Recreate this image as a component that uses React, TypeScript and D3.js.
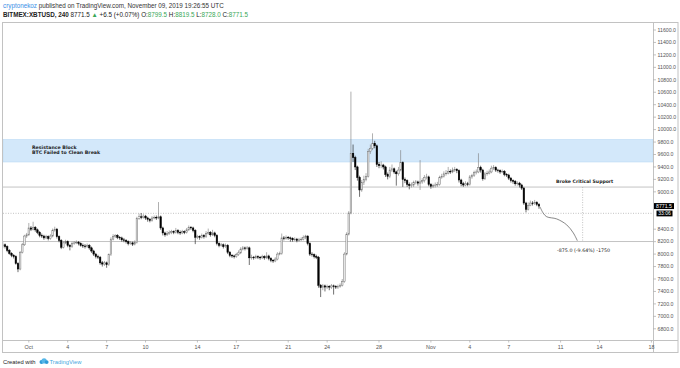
import React, { useEffect, useRef } from 'react';
import * as d3 from 'd3';

// 4H candles starting 29 Sep 2019 00:00 UTC (BITMEX:XBTUSD)
const firstOpen = 8130;
const closes = [
  8150, 8120, 8060, 8010, 7980, 7960, 7850, 7760, 8030, 8150,
  8290, 8310, 8420, 8400, 8430, 8390, 8350, 8300, 8290, 8260,
  8280, 8250, 8290, 8380, 8400, 8280, 8220, 8110, 8180, 8200,
  8140, 8120, 8170, 8180, 8190, 8170, 8140, 8130, 8120, 8140,
  8100, 8050, 8000, 7960, 7950, 7860, 7840, 7860, 7830, 7990,
  8240, 8280, 8300, 8270, 8260, 8230, 8220, 8200, 8170, 8180,
  8160, 8190, 8570, 8600, 8590, 8610, 8580, 8560, 8540, 8580,
  8590, 8580, 8600, 8420, 8340, 8310, 8330, 8350, 8360, 8350,
  8380, 8350, 8340, 8360, 8350, 8390, 8430, 8420, 8380, 8270,
  8280, 8270, 8300, 8280, 8330, 8350, 8310, 8340, 8300, 8170,
  8140, 8150, 8120, 8140, 8030, 7980, 7970, 7960, 7990, 8020,
  8080, 8100, 8090, 8100, 7940, 7950, 7940, 7960, 7950, 7940,
  7960, 7940, 7970, 7930, 7900, 7890, 7920, 8000, 8010, 8260,
  8250, 8270, 8260, 8250, 8230, 8240, 8220, 8230, 8240, 8270,
  8290, 8170, 8000, 7990, 7960, 7950, 7500, 7460, 7490, 7470,
  7480, 7470, 7490, 7480, 7470, 7480, 7500, 7560, 8000, 8320,
  8660, 9620, 9550, 9400, 9230, 9030, 9150, 9200, 9250, 9650,
  9700, 9780, 9740, 9440, 9420, 9430, 9400, 9280, 9250, 9350,
  9370, 9320, 9290, 9350, 9470, 9200, 9180, 9120, 9100, 9110,
  9150, 9160, 9140, 9160, 9180, 9230, 9240, 9120, 9090, 9100,
  9110, 9120, 9230, 9250, 9290, 9300, 9330, 9320, 9350, 9360,
  9340, 9190, 9130, 9110, 9130, 9120, 9240, 9260, 9310, 9320,
  9390, 9350, 9210, 9290, 9300, 9320, 9380, 9390, 9350, 9340,
  9320, 9330, 9280, 9270, 9220, 9180, 9170, 9130, 9140, 9110,
  9060, 8820, 8720, 8780, 8820, 8810, 8830, 8799.5, 8771.5,
];
const highs = [
  8190, 8170, 8140, 8080, 8030, 8000, 7980, 7870, 8050, 8180,
  8310, 8340, 8500, 8450, 8520, 8450, 8410, 8370, 8330, 8310,
  8310, 8300, 8320, 8410, 8440, 8420, 8300, 8240, 8210, 8230,
  8220, 8160, 8200, 8210, 8220, 8210, 8190, 8170, 8160, 8170,
  8160, 8120, 8070, 8020, 7990, 7970, 7890, 7890, 7880, 8010,
  8270, 8320, 8320, 8320, 8290, 8280, 8260, 8240, 8220, 8210,
  8200, 8220, 8600, 8650, 8660, 8640, 8630, 8600, 8580, 8610,
  8620, 8620, 8836, 8620, 8440, 8360, 8370, 8380, 8390, 8380,
  8420, 8400, 8380, 8390, 8380, 8420, 8460, 8450, 8440, 8400,
  8310, 8300, 8330, 8320, 8370, 8410, 8370, 8390, 8360, 8320,
  8190, 8180, 8170, 8170, 8160, 8050, 8000, 7990, 8020, 8060,
  8110, 8130, 8120, 8130, 8120, 7990, 7970, 7990, 7980, 7970,
  7990, 7980, 8030, 7990, 7950, 7920, 7950, 8030, 8040, 8330,
  8290, 8300, 8290, 8280, 8270, 8270, 8260, 8260, 8270, 8300,
  8310, 8300, 8190, 8030, 8010, 7990, 7970, 7520, 7520, 7510,
  7510, 7500, 7520, 7510, 7500, 7510, 7530, 7600, 8030, 8350,
  8690, 10610, 9760, 9580, 9420, 9260, 9190, 9260, 9300, 9690,
  9760, 9940, 9820, 9760, 9480, 9490, 9450, 9420, 9310, 9400,
  9440, 9390, 9340, 9400, 9670, 9490, 9230, 9200, 9150, 9150,
  9180, 9190, 9180, 9510, 9220, 9270, 9290, 9260, 9140, 9130,
  9150, 9160, 9260, 9290, 9330, 9350, 9400, 9360, 9390, 9400,
  9380, 9360, 9210, 9160, 9170, 9160, 9270, 9290, 9340, 9360,
  9620, 9420, 9370, 9320, 9340, 9360, 9420, 9430, 9410, 9370,
  9360, 9360, 9350, 9300, 9290, 9240, 9200, 9190, 9170, 9160,
  9130, 9080, 8840, 8830, 8860, 8850, 8870, 8850, 8819.5,
];
const lows = [
  8100, 8090, 8030, 7990, 7950, 7930, 7830, 7710, 7740, 8010,
  8130, 8260, 8290, 8370, 8380, 8360, 8320, 8270, 8260, 8230,
  8240, 8220, 8230, 8270, 8360, 8250, 8190, 8080, 8090, 8160,
  8110, 8060, 8100, 8150, 8160, 8140, 8120, 8100, 8090, 8100,
  8070, 8020, 7970, 7930, 7920, 7830, 7800, 7810, 7780, 7810,
  7970, 8220, 8260, 8240, 8230, 8200, 8190, 8170, 8140, 8150,
  8130, 8140, 8170, 8550, 8560, 8570, 8550, 8520, 8510, 8520,
  8560, 8550, 8560, 8390, 8300, 8280, 8290, 8310, 8320, 8320,
  8330, 8320, 8310, 8320, 8320, 8330, 8370, 8390, 8350, 8160,
  8240, 8230, 8250, 8250, 8260, 8310, 8280, 8290, 8270, 8140,
  8110, 8120, 8090, 8100, 8000, 7950, 7940, 7930, 7940, 7970,
  8000, 8060, 8060, 8070, 7825, 7910, 7910, 7920, 7920, 7910,
  7920, 7910, 7920, 7900, 7870, 7860, 7870, 7900, 7980, 7990,
  8220, 8230, 8230, 8200, 8200, 8210, 8190, 8200, 8210, 8220,
  8240, 8140, 7970, 7960, 7930, 7920, 7460, 7310, 7420, 7400,
  7440, 7420, 7440, 7350, 7440, 7440, 7460, 7480, 7540, 7980,
  8300, 8640, 9480, 9350, 9180, 8920, 9000, 9110, 9170, 9230,
  9610, 9670, 9700, 9400, 9380, 9380, 9360, 9240, 9200, 9220,
  9320, 9290, 9100, 9260, 9330, 9080, 9140, 9080, 9040, 9070,
  9080, 9120, 9100, 9030, 9130, 9150, 9200, 9090, 9050, 9060,
  9070, 9080, 9100, 9210, 9230, 9260, 9280, 9290, 9300, 9320,
  9300, 9150, 9090, 9080, 9090, 9090, 9100, 9210, 9240, 9280,
  9300, 9310, 9180, 9190, 9260, 9280, 9300, 9350, 9320, 9310,
  9290, 9300, 9250, 9240, 9190, 9150, 9130, 9100, 9100, 9070,
  9030, 8790, 8670, 8700, 8770, 8780, 8790, 8770, 8728,
];

const xTicks = [
  [1, 'Oct'], [4, '4'], [7, '7'], [10, '10'], [14, '14'], [17, '17'], [21, '21'], [24, '24'], [28, '28'],
  [32, 'Nov'], [35, '4'], [38, '7'], [42, '11'], [45, '14'], [49, '18'],
];
const yTicks = [11600, 11400, 11200, 11000, 10800, 10600, 10400, 10200, 10000, 9800, 9600, 9400,
  9200, 9000, 8400, 8200, 8000, 7800, 7600, 7400, 7200, 7000, 6800];

const resistance = [9480, 9840];
const supportLine = 9077;
const targetLine = 8202;
const dottedLine = 8655;
// projected path drawn on the chart: [day offset from 1 Oct, price]
const projection = [
  [39.41, 8760], [39.67, 8655], [39.93, 8600], [40.70, 8565], [41.47, 8470], [41.98, 8340], [42.29, 8215],
];
const measureDay = 42.7;

const day = (d: number) => new Date(Date.UTC(2019, 9, 1) + d * 864e5);

const App: React.FC = () => {
  const svgRef = useRef<SVGSVGElement>(null);

  useEffect(() => {
    const svg = d3.select(svgRef.current);
    svg.selectAll('*').remove();

    const W = 680, H = 368;
    const left = 3, right = 653, top = 23, bottom = 340;
    const font = 'Liberation Sans, Arial, sans-serif';
    const noteFont = 'DejaVu Sans, sans-serif';

    const x = d3.scaleUtc().domain([day(0), day(48)]).range([28.8, 651.4]);
    const y = d3.scaleLinear().domain([6800, 11600]).range([328.8, 30]);

    svg.attr('width', W).attr('height', H);
    svg.append('rect').attr('width', W).attr('height', H).attr('fill', '#fff');

    // header
    const h1 = svg.append('text').attr('x', 3).attr('y', 7.5).attr('font-family', font).attr('font-size', 6.3).attr('fill', '#333');
    h1.append('tspan').attr('fill', '#3a8ee6').text('cryptonekoz');
    h1.append('tspan').text(' published on TradingView.com, November 09, 2019 19:26:55 UTC');
    const h2 = svg.append('text').attr('x', 3).attr('y', 16.5).attr('font-family', font).attr('font-size', 6.3).attr('fill', '#222');
    h2.append('tspan').attr('font-weight', 'bold').text('BITMEX:XBTUSD, 240 ');
    h2.append('tspan').text('8771.5 ');
    h2.append('tspan').attr('fill', '#3aa757').text('▲ ');
    h2.append('tspan').attr('fill', '#222').text('+6.5 (+0.07%) O:');
    h2.append('tspan').attr('fill', '#3aa757').text('8799.5');
    h2.append('tspan').text(' H:');
    h2.append('tspan').attr('fill', '#3aa757').text('8819.5');
    h2.append('tspan').text(' L:');
    h2.append('tspan').attr('fill', '#3aa757').text('8728.0');
    h2.append('tspan').text(' C:');
    h2.append('tspan').attr('fill', '#3aa757').text('8771.5');

    const defs = svg.append('defs');
    defs.append('clipPath').attr('id', 'pane').append('rect')
      .attr('x', left).attr('y', top).attr('width', right - left).attr('height', bottom - top);
    const pane = svg.append('g').attr('clip-path', 'url(#pane)');

    // resistance block
    pane.append('rect')
      .attr('x', left).attr('width', right - left)
      .attr('y', y(resistance[1])).attr('height', y(resistance[0]) - y(resistance[1]))
      .attr('fill', '#d3e8fa').attr('stroke', '#b9d9f5').attr('stroke-width', 0.6);
    pane.append('text').attr('x', 32).attr('y', y(9670) - 1.3).attr('font-family', noteFont)
      .attr('font-size', 4.7).attr('font-weight', 'bold').attr('fill', '#222').text('Resistance Block');
    pane.append('text').attr('x', 32).attr('y', y(9670) + 3.9).attr('font-family', noteFont)
      .attr('font-size', 4.7).attr('font-weight', 'bold').attr('fill', '#222').text('BTC Failed to Clean Break');

    // horizontal levels
    [supportLine, targetLine].forEach(v => {
      pane.append('line').attr('x1', left).attr('x2', right).attr('y1', y(v)).attr('y2', y(v))
        .attr('stroke', '#c4c4c4').attr('stroke-width', 1);
    });
    pane.append('line').attr('x1', left).attr('x2', right).attr('y1', y(dottedLine)).attr('y2', y(dottedLine))
      .attr('stroke', '#9a9a9a').attr('stroke-width', 0.6).attr('stroke-dasharray', '1,1.5');

    // candles
    const start = Date.UTC(2019, 8, 29);
    const bw = 1.5;
    closes.forEach((c, i) => {
      const o = i === 0 ? firstOpen : closes[i - 1];
      const cx = x(new Date(start + i * 4 * 3600e3));
      const up = c >= o;
      pane.append('line').attr('x1', cx).attr('x2', cx).attr('y1', y(highs[i])).attr('y2', y(lows[i]))
        .attr('stroke', up ? '#7a7a7a' : '#111').attr('stroke-width', 0.6);
      const yt = y(Math.max(o, c)), yb = y(Math.min(o, c));
      pane.append('rect').attr('x', cx - bw / 2).attr('width', bw)
        .attr('y', yt).attr('height', Math.max(0.6, yb - yt))
        .attr('fill', up ? '#eeeeee' : '#000')
        .attr('stroke', up ? '#777' : '#000').attr('stroke-width', 0.5);
    });

    // projection path
    pane.append('path')
      .attr('d', d3.line<number[]>().x(p => x(day(p[0]))).y(p => y(p[1])).curve(d3.curveCatmullRom)(projection) || '')
      .attr('fill', 'none').attr('stroke', '#555').attr('stroke-width', 0.7);

    // measure tool
    pane.append('line').attr('x1', x(day(measureDay))).attr('x2', x(day(measureDay)))
      .attr('y1', y(supportLine)).attr('y2', y(targetLine))
      .attr('stroke', '#9a9a9a').attr('stroke-width', 0.6).attr('stroke-dasharray', '1,1.5');
    pane.append('text').attr('x', 557).attr('y', y(targetLine) + 10).attr('font-family', noteFont)
      .attr('font-size', 4.8).attr('fill', '#222').text('-875.0 (-9.64%) -1750');
    pane.append('text').attr('x', 556).attr('y', y(supportLine) - 4.5).attr('font-family', noteFont)
      .attr('font-size', 4.6).attr('font-weight', 'bold').attr('fill', '#222').text('Broke Critical Support');

    // frames
    const frame = '#c2c2c2';
    svg.append('rect').attr('x', 2.5).attr('y', 22.5).attr('width', 675.5).attr('height', 330)
      .attr('fill', 'none').attr('stroke', frame).attr('stroke-width', 1);
    svg.append('line').attr('x1', 2.5).attr('x2', 678).attr('y1', 340.5).attr('y2', 340.5).attr('stroke', frame);
    svg.append('line').attr('x1', 653.5).attr('x2', 653.5).attr('y1', 22.5).attr('y2', 352.5).attr('stroke', frame);

    // y axis
    const ya = svg.append('g');
    yTicks.forEach(v => {
      ya.append('line').attr('x1', 653.5).attr('x2', 656).attr('y1', y(v)).attr('y2', y(v)).attr('stroke', '#999').attr('stroke-width', 0.6);
      ya.append('text').attr('x', 657.5).attr('y', y(v) + 1.8).attr('font-family', font).attr('font-size', 5.2)
        .attr('fill', '#555').text(d3.format('.1f')(v));
    });
    const last = closes[closes.length - 1];
    svg.append('rect').attr('x', 654).attr('y', y(last) - 3).attr('width', 20).attr('height', 6).attr('fill', '#000');
    svg.append('text').attr('x', 664).attr('y', y(last) + 1.8).attr('text-anchor', 'middle').attr('font-family', font)
      .attr('font-size', 5.2).attr('fill', '#fff').text('8771.5');
    svg.append('rect').attr('x', 656.5).attr('y', y(last) + 4.5).attr('width', 16).attr('height', 5.8).attr('fill', '#000');
    svg.append('text').attr('x', 664.5).attr('y', y(last) + 9.2).attr('text-anchor', 'middle').attr('font-family', font)
      .attr('font-size', 5).attr('fill', '#fff').text('33:06');

    // x axis
    xTicks.forEach(([d, label]) => {
      const px = x(day((d as number) - 1));
      svg.append('line').attr('x1', px).attr('x2', px).attr('y1', 340.5).attr('y2', 342.5).attr('stroke', '#999').attr('stroke-width', 0.6);
      svg.append('text').attr('x', px).attr('y', 348.5).attr('text-anchor', 'middle').attr('font-family', font)
        .attr('font-size', 5.4).attr('fill', '#555').text(label as string);
    });

    // footer
    svg.append('text').attr('x', 3).attr('y', 364).attr('font-family', font).attr('font-size', 5.8).attr('fill', '#222').text('Created with');
    const logo = svg.append('g').attr('transform', 'translate(39.5,358.5)');
    logo.append('circle').attr('cx', 2).attr('cy', 3.5).attr('r', 2).attr('fill', '#2e9bd8');
    logo.append('circle').attr('cx', 4.6).attr('cy', 2.4).attr('r', 2.6).attr('fill', '#55b6e8');
    logo.append('circle').attr('cx', 7.2).attr('cy', 3.6).attr('r', 1.9).attr('fill', '#2e9bd8');
    svg.append('text').attr('x', 49.5).attr('y', 364).attr('font-family', font).attr('font-size', 5.8).attr('fill', '#45a8e0').text('TradingView');
  }, []);

  return <svg ref={svgRef} style={{ position: 'absolute', left: 0, top: 0 }}></svg>;
};

export default App;
